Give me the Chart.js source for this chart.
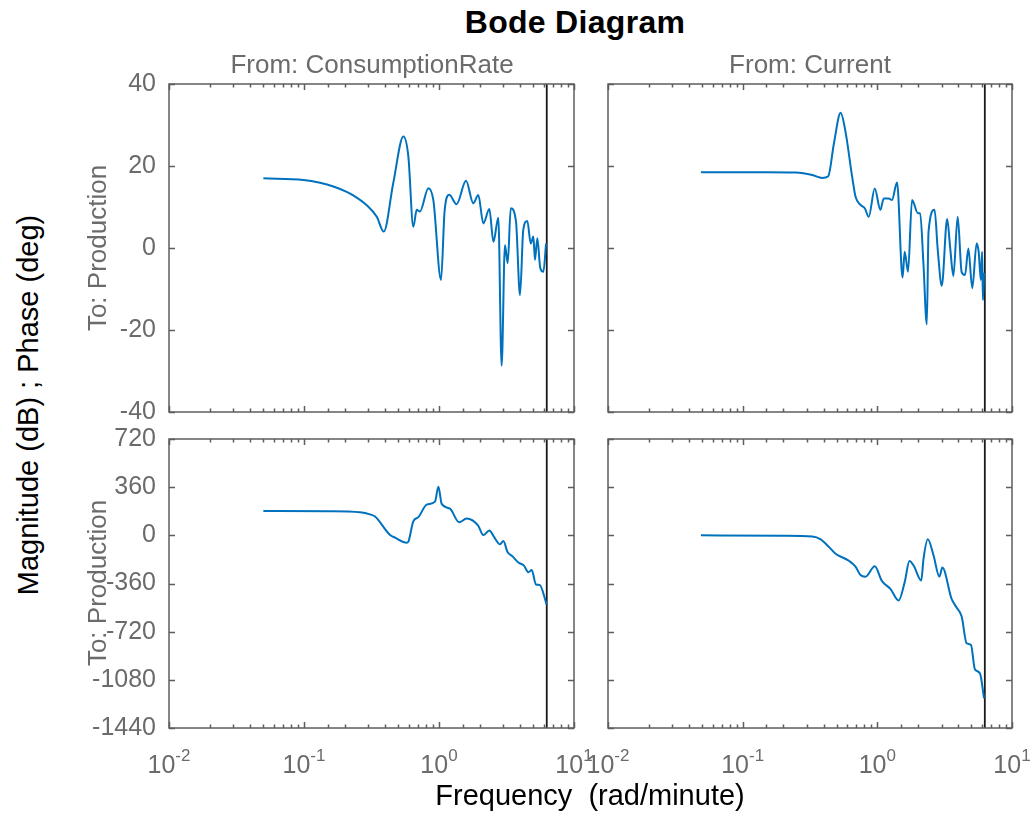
<!DOCTYPE html>
<html>
<head>
<meta charset="utf-8">
<title>Bode Diagram</title>
<script src="https://cdn.jsdelivr.net/npm/chart.js@4.4.0/dist/chart.umd.min.js"></script>
<style>
    body { margin: 0; width: 1032px; height: 813px; background: #fff; position: relative; overflow: hidden;
           font-family: 'Liberation Sans', Arial, sans-serif; }
    canvas { position: absolute; }
    .lbl { position: absolute; transform: translate(-50%, -50%); white-space: pre; line-height: 1; }
    .rot { transform: translate(-50%, -50%) rotate(-90deg); }
    .gray { color: #6b6b6b; }
</style>
</head>
<body>
<canvas id="mag-cr" width="530" height="364" style="left:60px; top:64px"></canvas>
<canvas id="mag-cur" width="442" height="364" style="left:590px; top:64px"></canvas>
<canvas id="ph-cr" width="550" height="394" style="left:60px; top:419px"></canvas>
<canvas id="ph-cur" width="452" height="394" style="left:580px; top:419px"></canvas>

<div class="lbl" style="left:575px; top:22px; font-size:32px; font-weight:bold; letter-spacing:0.3px">Bode Diagram</div>
<div class="lbl gray" style="left:372px; top:64px; font-size:26px">From: ConsumptionRate</div>
<div class="lbl gray" style="left:810px; top:64px; font-size:26px">From: Current</div>
<div class="lbl gray rot" style="left:97px; top:248px; font-size:26px">To: Production</div>
<div class="lbl gray rot" style="left:97px; top:583px; font-size:26px">To: Production</div>
<div class="lbl rot" style="left:28px; top:405px; font-size:29px">Magnitude (dB) ; Phase (deg)</div>
<div class="lbl" style="left:590px; top:795px; font-size:29px">Frequency  (rad/minute)</div>

<script>
// --- datos ---
const nyquistFreq = 6.2832;
const xTickExponents = [-2, -1, 0, 1];
const magTicks = [-40, -20, 0, 20, 40];
const phaseTicks = [-1440, -1080, -720, -360, 0, 360, 720];

// From: ConsumptionRate -> To: Production
const freqMagCR = [0.05, 0.099, 0.1315, 0.165, 0.207, 0.23, 0.29, 0.346, 0.39, 0.458, 0.545, 0.593, 0.645, 0.684,
    0.723, 0.834, 0.908, 1.035, 1.10, 1.19, 1.35, 1.585, 1.795, 1.955, 2.13, 2.36, 2.53, 2.75, 2.91, 3.08, 3.23,
    3.40, 3.72, 3.98, 4.21, 4.51, 4.78, 5.0, 5.14, 5.35, 5.62, 5.93, 6.21];
const magCR = [17.0, 16.6, 15.9, 15.0, 13.7, 12.9, 10.5, 7.6, 4.0, 15.8, 27.2, 22.3, 5.2, 9.3,
    8.9, 14.6, 11.7, -7.8, 9.0, 13.0, 10.7, 16.4, 10.9, 12.9, 6.0, 9.5, 1.5, 7.4, -28.7, 0.7, -3.7,
    9.7, 6.4, -11.5, 4.4, 6.6, 1.1, 2.8, -2.9, 2.4, -4.8, -5.8, 1.1];

const freqPhaseCR = [0.05, 0.15, 0.26, 0.308, 0.336, 0.434, 0.472, 0.576, 0.593, 0.645, 0.703, 0.811, 0.934, 0.99,
    1.047, 1.205, 1.41, 1.60, 1.95, 2.13, 2.36, 2.55, 2.83, 3.0, 3.21, 3.52, 3.87, 4.26, 4.59, 4.86, 5.23, 5.57, 6.28];
const phaseCR = [182, 180, 172, 157, 140, 2, -17, -55, -47, 105, 136, 229, 252, 364,
    235, 199, 97, 125, 72, 2, 36, -10, -67, -42, -122, -159, -203, -226, -276, -259, -368, -371, -518];

// From: Current -> To: Production
const freqMagCur = [0.049, 0.15, 0.248, 0.329, 0.39, 0.432, 0.476, 0.534, 0.58, 0.65, 0.689, 0.75, 0.807, 0.863,
    0.957, 1.054, 1.115, 1.214, 1.284, 1.40, 1.54, 1.596, 1.69, 1.81, 2.0, 2.08, 2.2, 2.33, 2.4, 2.66, 2.81, 3.01,
    3.3, 3.47, 3.67, 3.95, 4.23, 4.48, 4.74, 5.07, 5.46, 5.66, 5.87, 6.0, 6.08, 6.2];
const magCur = [18.5, 18.5, 18.4, 17.8, 17.1, 17.5, 25.5, 33.0, 28.4, 17.4, 12.5, 10.5, 9.7, 7.6,
    14.5, 9.3, 12.1, 12.1, 11.7, 16.0, -7.2, -0.9, -5.8, 11.7, 8.5, 8.5, -3.9, -18.6, 4.0, 9.3, -0.5, -9.2,
    7.1, 0.3, -6.8, 7.6, -5.9, -6.6, -0.1, -9.8, 1.1, -1.0, -7.8, -0.9, -12.7, -6.0];

const freqPhaseCur = [0.049, 0.2, 0.329, 0.38, 0.44, 0.49, 0.615, 0.689, 0.75, 0.817, 0.957, 1.08, 1.25, 1.44, 1.6,
    1.73, 1.86, 2.12, 2.2, 2.37, 2.61, 2.89, 3.04, 3.56, 3.88, 4.23, 4.6, 4.96, 5.3, 5.78, 6.2];
const phaseCur = [0, -3, -8, -30, -90, -138, -190, -234, -297, -309, -232, -340, -400, -487, -346,
    -192, -226, -338, -180, -30, -147, -309, -240, -475, -540, -607, -806, -819, -1000, -1031, -1218];

const FONT = "'Liberation Sans', Arial, sans-serif";
const lineBlue = '#0072BD';
const boxColor = '#5e5e5e';
const tickColor = '#6b6b6b';

// caja estilo MATLAB con ticks hacia dentro + etiquetas 10^n
const matlabBox = {
    id: 'matlabBox',
    afterDatasetsDraw(chart, args, opts) {
        const { ctx, chartArea: a, scales: { x, y } } = chart;
        ctx.save();
        ctx.strokeStyle = boxColor;
        ctx.lineWidth = 1.5;
        ctx.beginPath();
        x.ticks.forEach(t => {
            const lg = Math.log10(t.value);
            const len = Math.abs(lg - Math.round(lg)) < 1e-6 ? 6 : 3.5;
            const px = Math.round(x.getPixelForValue(t.value)) + 0.5;
            ctx.moveTo(px, a.top); ctx.lineTo(px, a.top + len);
            ctx.moveTo(px, a.bottom); ctx.lineTo(px, a.bottom - len);
        });
        y.ticks.forEach(t => {
            const py = Math.round(y.getPixelForValue(t.value)) + 0.5;
            ctx.moveTo(a.left, py); ctx.lineTo(a.left + 6, py);
            ctx.moveTo(a.right, py); ctx.lineTo(a.right - 6, py);
        });
        ctx.stroke();
        ctx.strokeRect(a.left, a.top, a.right - a.left, a.bottom - a.top);

        if (opts.xLabels) {
            ctx.fillStyle = tickColor;
            ctx.textAlign = 'left';
            ctx.textBaseline = 'alphabetic';
            xTickExponents.forEach(e => {
                const px = x.getPixelForValue(Math.pow(10, e));
                ctx.font = `25px ${FONT}`;
                const wb = ctx.measureText('10').width;
                ctx.font = `17px ${FONT}`;
                const ws = ctx.measureText(String(e)).width;
                const x0 = px - (wb + ws) / 2;
                ctx.font = `25px ${FONT}`;
                ctx.fillText('10', x0, a.bottom + 45);
                ctx.font = `17px ${FONT}`;
                ctx.fillText(String(e), x0 + wb, a.bottom + 33);
            });
        }
        ctx.restore();
    }
};

function makePanel(id, freq, values, ticks, pad, showY, showXLabels) {
    const yMin = ticks[0];
    const yMax = ticks[ticks.length - 1];
    return new Chart(document.getElementById(id), {
        type: 'line',
        data: {
            datasets: [{
                data: freq.map((f, i) => ({ x: f, y: values[i] })),
                borderColor: lineBlue,
                borderWidth: 2,
                pointRadius: 0,
                cubicInterpolationMode: 'monotone'
            }, {
                data: [{ x: nyquistFreq, y: yMin }, { x: nyquistFreq, y: yMax }],
                borderColor: '#1a1a1a',
                borderWidth: 1.8,
                pointRadius: 0
            }]
        },
        options: {
            responsive: false,
            animation: false,
            devicePixelRatio: 1,
            events: [],
            layout: { padding: pad },
            plugins: {
                legend: { display: false },
                tooltip: { enabled: false },
                matlabBox: { xLabels: showXLabels }
            },
            scales: {
                x: {
                    type: 'logarithmic',
                    min: 0.01,
                    max: 10,
                    display: false,
                    ticks: { autoSkip: false }
                },
                y: {
                    type: 'linear',
                    min: yMin,
                    max: yMax,
                    display: showY,
                    afterBuildTicks: scale => { scale.ticks = ticks.map(v => ({ value: v })); },
                    afterFit: scale => {
                        // ancho fijo y sin el relleno extra de las etiquetas
                        scale.width = showY ? 109 : 0;
                        scale.paddingTop = 0;
                        scale.paddingBottom = 0;
                    },
                    grid: { display: false, drawTicks: false },
                    border: { display: false },
                    ticks: {
                        autoSkip: false,
                        padding: 13,
                        color: tickColor,
                        font: { family: FONT, size: 25 },
                        callback: v => String(v)
                    }
                }
            }
        },
        plugins: [matlabBox]
    });
}

makePanel('mag-cr', freqMagCR, magCR, magTicks, { top: 20, right: 16, bottom: 16, left: 0 }, true, false);
makePanel('mag-cur', freqMagCur, magCur, magTicks, { top: 20, right: 20, bottom: 16, left: 18 }, false, false);
makePanel('ph-cr', freqPhaseCR, phaseCR, phaseTicks, { top: 20, right: 36, bottom: 85, left: 0 }, true, true);
makePanel('ph-cur', freqPhaseCur, phaseCur, phaseTicks, { top: 20, right: 20, bottom: 85, left: 28 }, false, true);
</script>
</body>
</html>
